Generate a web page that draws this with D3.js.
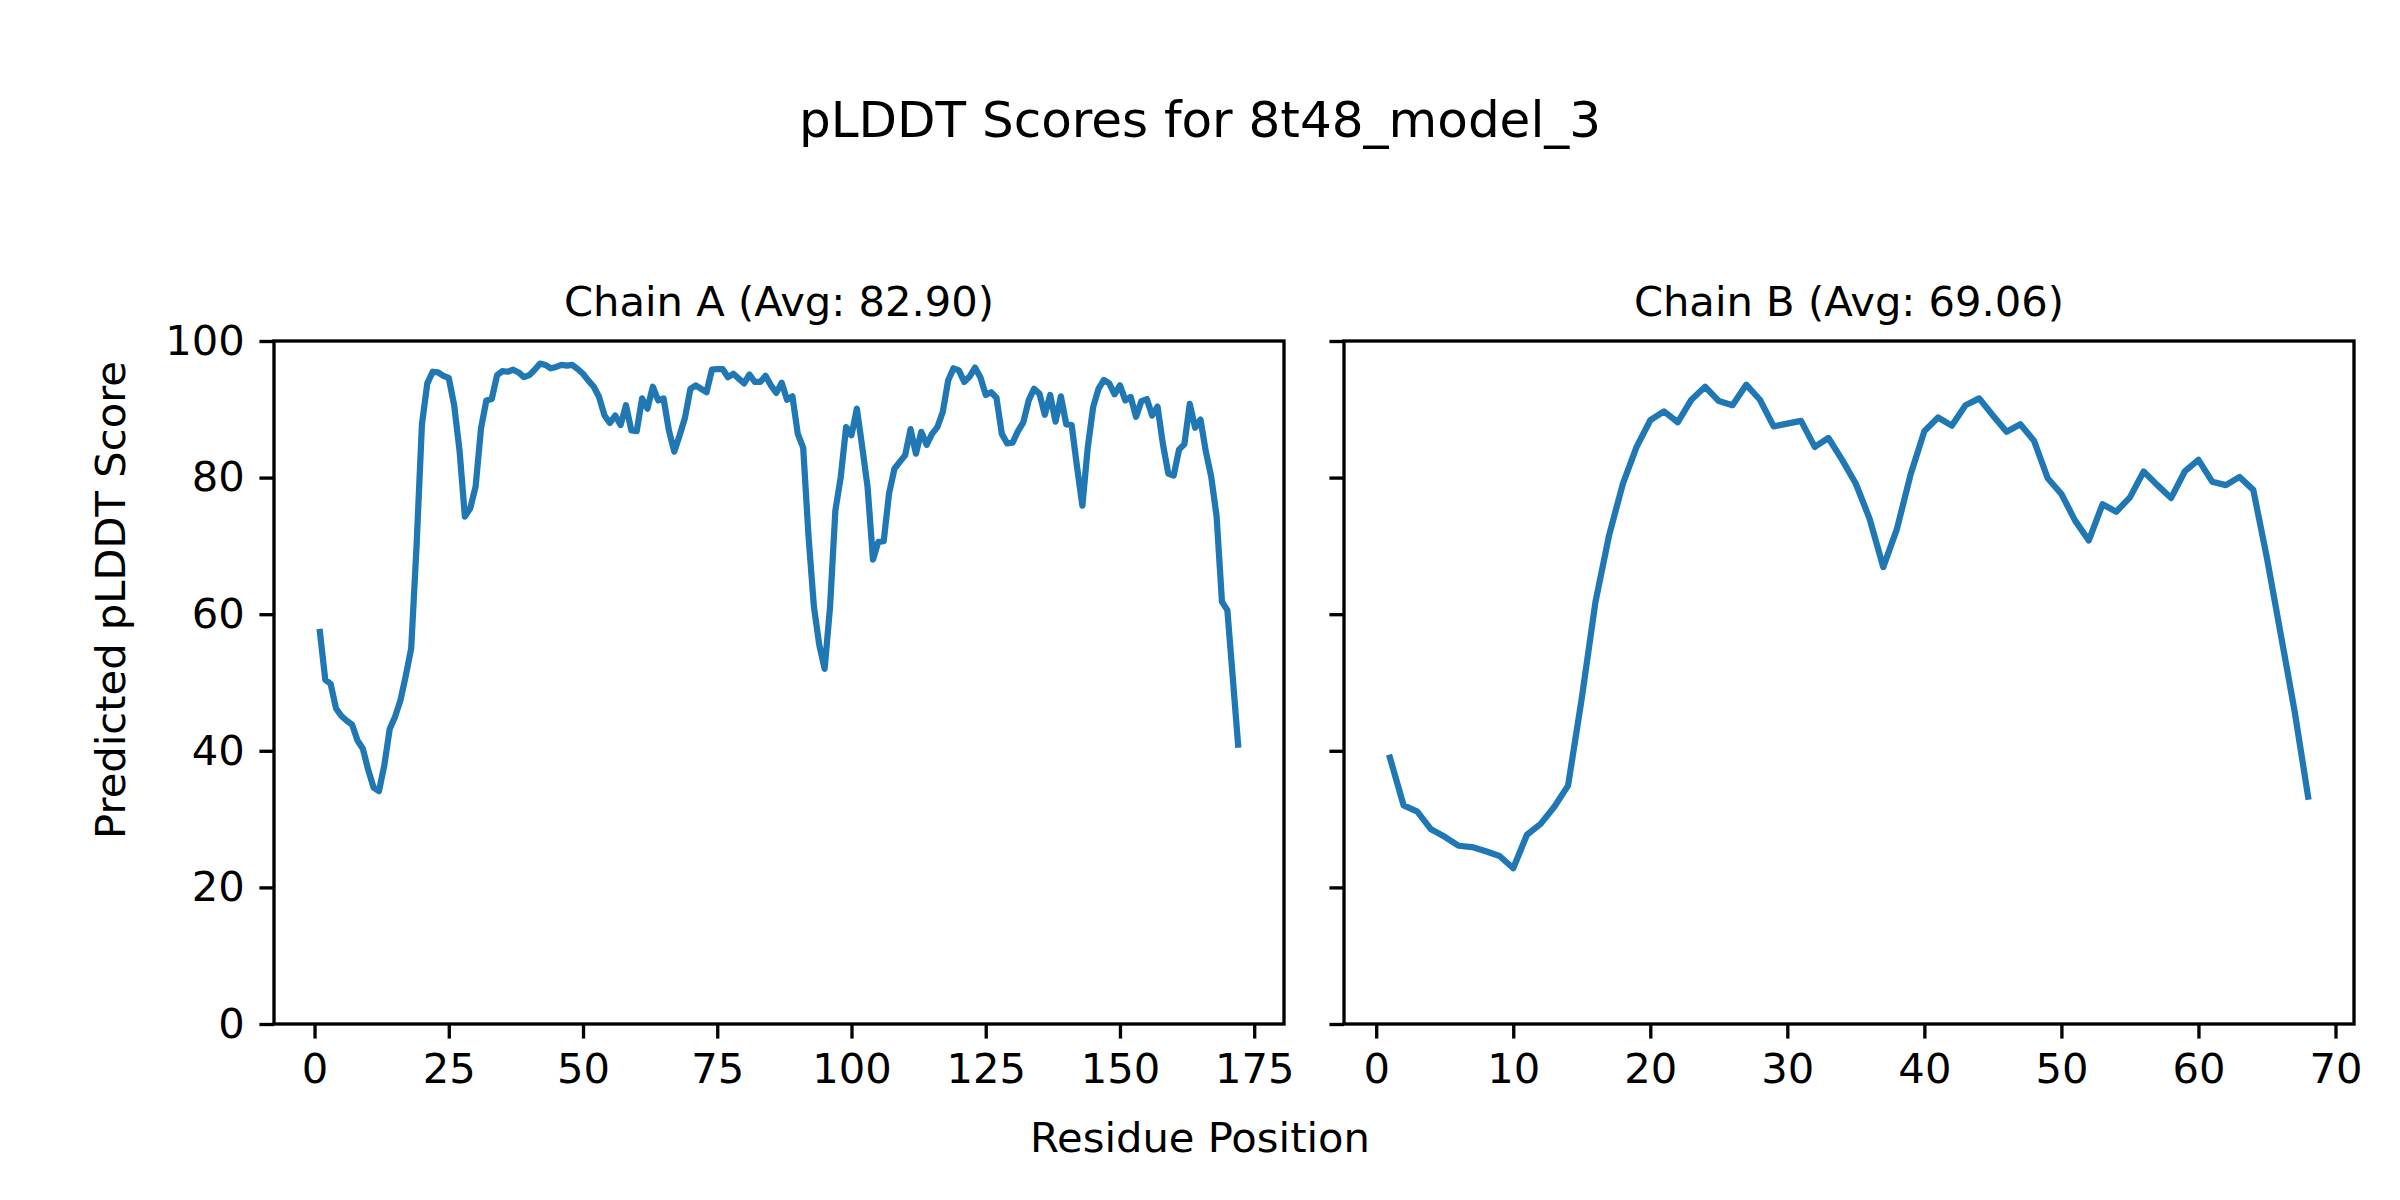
<!DOCTYPE html>
<html>
<head>
<meta charset="utf-8">
<script src="https://cdn.jsdelivr.net/npm/d3@7"></script>
<style>
  html, body { margin: 0; padding: 0; background: #fff; }
  svg text { font-family: "DejaVu Sans", sans-serif; fill: #000; }
</style>
</head>
<body>
<svg id="chart" width="2400" height="1200"></svg>
<script>
// ---- data ----
const figTitle = "pLDDT Scores for 8t48_model_3";
const xLabel = "Residue Position";
const yLabel = "Predicted pLDDT Score";
const chainNames = ["Chain A (Avg: 82.90)", "Chain B (Avg: 69.06)"];

const chainA = [
  57.4, 50.4, 49.8, 46.2, 45.1, 44.4, 43.8, 41.5, 40.3, 37.2,
  34.6, 34.1, 37.9, 43.2, 45.0, 47.4, 51.0, 55.0, 70.0, 87.8,
  93.8, 95.5, 95.4, 94.9, 94.6, 90.6, 84.0, 74.3, 75.5, 78.7,
  87.2, 91.3, 91.5, 95.0, 95.6, 95.5, 95.8, 95.4, 94.7, 95.0,
  95.8, 96.7, 96.5, 96.0, 96.2, 96.5, 96.4, 96.5, 95.9, 95.2,
  94.2, 93.3, 91.8, 89.1, 88.0, 89.1, 87.7, 90.6, 86.9, 86.8,
  91.6, 90.1, 93.3, 91.3, 91.6, 86.9, 83.8, 86.2, 88.8, 93.0,
  93.5, 93.0, 92.5, 95.8, 95.9, 95.9, 94.7, 95.2, 94.5, 93.8,
  95.1, 94.0, 94.0, 94.9, 93.5, 92.4, 93.9, 91.4, 91.9, 86.4,
  84.4, 71.4, 61.1, 55.5, 52.0, 61.0, 75.2, 80.1, 87.4, 86.2,
  90.1, 84.5, 78.6, 68.0, 70.6, 70.7, 77.7, 81.3, 82.3, 83.3,
  87.1, 83.5, 86.7, 84.8, 86.4, 87.4, 89.6, 94.2, 96.0, 95.7,
  94.0, 94.8, 96.1, 94.7, 92.1, 92.5, 91.7, 86.4, 85.0, 85.1,
  86.8, 88.1, 91.3, 93.0, 92.3, 89.2, 92.1, 88.2, 91.9, 87.8,
  87.7, 81.6, 75.9, 84.4, 90.3, 93.0, 94.3, 93.8, 92.2, 93.5,
  91.3, 91.8, 88.9, 91.2, 91.5, 89.1, 90.4, 84.9, 80.6, 80.3,
  84.1, 84.9, 90.8, 87.3, 88.5, 83.8, 80.1, 74.3, 61.8, 60.6,
  50.8, 40.9
];

const chainB = [
  39.0, 32.0, 31.1, 28.5, 27.4, 26.1, 25.9, 25.3, 24.6, 22.8,
  27.7, 29.3, 31.8, 34.9, 47.7, 61.8, 71.6, 79.1, 84.5, 88.4,
  89.7, 88.1, 91.4, 93.3, 91.2, 90.6, 93.6, 91.4, 87.5, 87.9,
  88.3, 84.5, 85.8, 82.6, 79.1, 74.0, 66.9, 72.5, 80.5, 86.8,
  88.8, 87.6, 90.6, 91.6, 89.1, 86.7, 87.8, 85.4, 79.9, 77.6,
  73.7, 70.8, 76.1, 75.0, 77.1, 80.9, 78.9, 77.0, 80.9, 82.6,
  79.4, 78.9, 80.1, 78.2, 68.2, 57.1, 46.0, 33.3
];

const yTicks = [0, 20, 40, 60, 80, 100];
const xTicksA = [0, 25, 50, 75, 100, 125, 150, 175];
const xTicksB = [0, 10, 20, 30, 40, 50, 60, 70];

// ---- layout ----
const svg = d3.select("#chart");
const PT = 300 / 72;             // px per point at 300 dpi
const fsTick = 10 * PT;          // 41.67 px
const fsTitle = 12 * PT;         // 50 px
const tickLen = 3.5 * PT;
const tickPad = 3.5 * PT;
const spineW = 0.8 * PT;
const lineW = 1.5 * PT;
const blue = "#1f77b4";

const plotTop = 341, plotBottom = 1024;
const panels = [
  { data: chainA, name: chainNames[0], left: 274, right: 1284, ticks: xTicksA, showY: true },
  { data: chainB, name: chainNames[1], left: 1344, right: 2354, ticks: xTicksB, showY: false }
];

const yScale = d3.scaleLinear().domain([0, 100]).range([plotBottom, plotTop]);

panels.forEach(p => {
  const n = p.data.length;
  const span = n - 1;
  const xScale = d3.scaleLinear()
    .domain([1 - 0.05 * span, n + 0.05 * span])
    .range([p.left, p.right]);

  const g = svg.append("g");

  // line
  const pts = p.data.map((v, i) => [i + 1, v]);
  g.append("path")
    .datum(pts)
    .attr("fill", "none")
    .attr("stroke", blue)
    .attr("stroke-width", lineW)
    .attr("stroke-linejoin", "round")
    .attr("stroke-linecap", "square")
    .attr("d", d3.line().x(d => xScale(d[0])).y(d => yScale(d[1])));

  // spines
  g.append("rect")
    .attr("x", p.left).attr("y", plotTop)
    .attr("width", p.right - p.left).attr("height", plotBottom - plotTop)
    .attr("fill", "none").attr("stroke", "#000").attr("stroke-width", spineW);

  // x axis
  const gx = g.append("g")
    .attr("transform", `translate(0,${plotBottom})`)
    .call(d3.axisBottom(xScale).tickValues(p.ticks).tickSize(tickLen).tickPadding(tickPad).tickFormat(d3.format("d")));
  gx.select(".domain").remove();
  gx.selectAll("line").attr("stroke-width", spineW);
  gx.selectAll("text").attr("font-size", fsTick).attr("font-family", "DejaVu Sans");

  // y axis
  const gy = g.append("g")
    .attr("transform", `translate(${p.left},0)`)
    .call(d3.axisLeft(yScale).tickValues(yTicks).tickSize(tickLen).tickPadding(tickPad)
      .tickFormat(p.showY ? d3.format("d") : () => ""));
  gy.select(".domain").remove();
  gy.selectAll("line").attr("stroke-width", spineW);
  gy.selectAll("text").attr("font-size", fsTick).attr("font-family", "DejaVu Sans");

  // panel title
  g.append("text")
    .attr("x", (p.left + p.right) / 2)
    .attr("y", plotTop - 6 * PT)
    .attr("text-anchor", "middle")
    .attr("font-size", fsTick)
    .text(p.name);
});

// figure title
svg.append("text")
  .attr("x", 1200).attr("y", 137)
  .attr("text-anchor", "middle")
  .attr("font-size", fsTitle)
  .text(figTitle);

// x label
svg.append("text")
  .attr("x", 1200).attr("y", 1152)
  .attr("text-anchor", "middle")
  .attr("font-size", fsTick)
  .text(xLabel);

// y label
svg.append("text")
  .attr("transform", "translate(125,600) rotate(-90)")
  .attr("text-anchor", "middle")
  .attr("font-size", fsTick)
  .text(yLabel);
</script>
</body>
</html>
